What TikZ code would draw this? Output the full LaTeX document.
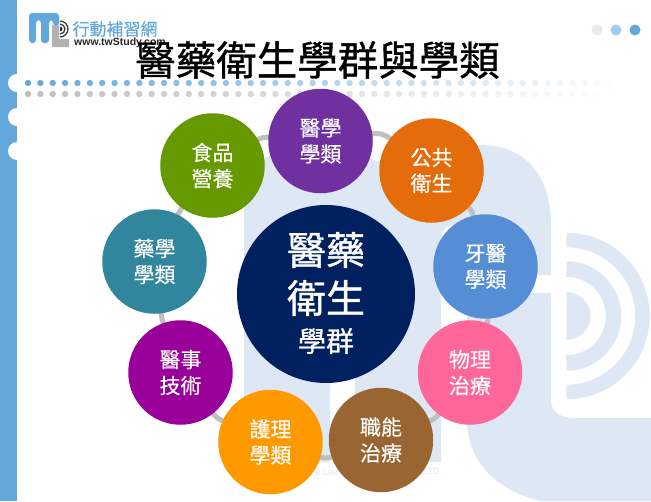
\documentclass[tikz,border=0pt]{standalone}
\usepackage{fontspec}
\setmainfont{Liberation Sans}
\newfontfamily\cjkfont[FakeBold=0.3]{Noto Sans CJK TC}
\newfontfamily\cjkheavy[FakeBold=0.9]{Noto Sans CJK TC}
\usetikzlibrary{backgrounds}
\definecolor{logoblue}{HTML}{62A8DC}
\definecolor{logopale}{HTML}{DEE8F5}
\definecolor{ringgray}{HTML}{BFBFBF}
\definecolor{topicnavy}{HTML}{002060}
\definecolor{topicpurple}{HTML}{7030A0}
\definecolor{topicorange}{HTML}{E46C0A}
\definecolor{topicblue}{HTML}{558ED5}
\definecolor{topicpink}{HTML}{FF6699}
\definecolor{topicbrown}{HTML}{996633}
\definecolor{topicamber}{HTML}{FF9900}
\definecolor{topicmagenta}{HTML}{990099}
\definecolor{topicteal}{HTML}{31859C}
\definecolor{topicgreen}{HTML}{669900}

\begin{document}
\begin{tikzpicture}[x=1pt,y=-1pt,
  topic/.style={circle,minimum size=104.5pt,inner sep=0pt,text=white,align=center,
    font=\cjkfont\fontsize{21}{26}\selectfont},
  link/.style={draw=ringgray,line width=5pt,shorten >=-3pt,shorten <=-3pt}]
\useasboundingbox (0,0) rectangle (651,501);

\begin{pgfonlayer}{background}
% Pale logo
\fill[logopale] (244,462) -- (244,205) .. controls (244,170) and (270,145) .. (305,145)
  .. controls (335,145) and (360,150) .. (376,162) .. controls (400,150) and (440,145) .. (480,145)
  .. controls (525,145) and (551,175) .. (551,225) -- (551,400) .. controls (551,412) and (560,418) .. (575,418)
  -- (651,418) -- (651,501) -- (540,501) .. controls (495,490) and (467,460) .. (467,420)
  -- (467,240) .. controls (467,230) and (462,225) .. (454,225) .. controls (446,225) and (441,230) .. (441,240)
  -- (441,462) -- (355,462) -- (355,330) -- (330,330) -- (330,462) -- cycle;
\fill[white] (530,275) rectangle (552,293);
\fill[logopale] (566.5,292) arc[start angle=-90,end angle=90,radius=24] -- cycle;
\draw[logopale,line width=15.5pt] (566.5,269) arc[start angle=-90,end angle=90,radius=47];
\draw[logopale,line width=14.5pt] (566.5,240) arc[start angle=-90,end angle=90,radius=76];
\node[font=\fontsize{9}{9}\selectfont,text=logopale,anchor=west,inner sep=0pt] (palea) at (305,472) {The Lea};
\node[font=\fontsize{9}{9}\selectfont,text=logopale,anchor=east,inner sep=0pt] (paleb) at (442,472) {.,LTD.};

% Left band
\fill[logoblue] (0,0) rectangle (17,501);
\foreach \y in {83,117,151} {
  \fill[white] (17,\y) circle (9);
}

% Dot rows
\foreach \i in {0,...,47} {
  \pgfmathsetmacro\op{1-\i/48}
  \fill[logoblue,opacity=\op] (28+\i*12.37,83) circle (3.2);
  \fill[black!25,opacity=\op] (28+\i*12.37,94) circle (3.2);
}

% Top right dots
\fill[black!8] (597,30) circle (5.5);
\fill[logoblue!60] (616,30) circle (5.5);
\fill[logoblue] (635,30) circle (5.5);

% Small logo
\fill[logoblue,rounded corners=3pt] (29,43) -- (29,13) -- (59,13) -- (59,26) -- (53,26) -- (53,20) -- (49,20) -- (49,43) -- (41,43) -- (41,20) -- (36,20) -- (36,43) -- cycle;
\fill[black!30] (52,25) -- (52,47) -- (69,47) -- (69,39) -- (59,39) -- (59,25) -- cycle;
\fill[black!80] (60,26.5) arc[start angle=-90,end angle=90,radius=2.5] -- cycle;
\draw[black!80,line width=1.2pt] (60,24) arc[start angle=-90,end angle=90,radius=5];
\draw[black!80,line width=1.2pt] (60,21) arc[start angle=-90,end angle=90,radius=8];
\end{pgfonlayer}

\node[font=\cjkfont\fontsize{17}{17}\selectfont,text=logoblue,inner sep=0pt] (brand) at (115,29) {行動補習網};
\node[font=\bfseries\fontsize{10.5}{11}\selectfont,text=black!85,anchor=west,inner sep=0pt] (site) at (74,42.5) {www.twStudy.com};

% Title
\node[font=\cjkheavy\fontsize{40.5}{41}\selectfont,inner sep=0pt] (title) at (317.5,60) {醫藥衛生學群與學類};

% Center
\node[circle,fill=topicnavy,minimum size=178pt,inner sep=0pt] (core) at (326,294) {};
\node[font=\cjkheavy\fontsize{39}{39}\selectfont,text=white,inner sep=0pt] (coreA) at (326,250) {醫藥};
\node[font=\cjkheavy\fontsize{39}{39}\selectfont,text=white,inner sep=0pt] (coreB) at (326,298) {衛生};
\node[font=\cjkheavy\fontsize{28}{28}\selectfont,text=white,inner sep=0pt] (coreC) at (326,341) {學群};

% Ring of topics
\node[topic,fill=topicpurple] (med) at (320.5,141) {醫學\\學類};
\node[topic,fill=topicorange] (pub) at (431.5,170.5) {公共\\衛生};
\node[topic,fill=topicblue] (den) at (485.5,266.5) {牙醫\\學類};
\node[topic,fill=topicpink] (phy) at (470,372.5) {物理\\治療};
\node[topic,fill=topicbrown] (occ) at (381,440) {職能\\治療};
\node[topic,fill=topicamber] (nur) at (270.5,442) {護理\\學類};
\node[topic,fill=topicmagenta] (tec) at (180.5,372.5) {醫事\\技術};
\node[topic,fill=topicteal] (pha) at (154.5,261.5) {藥學\\學類};
\node[topic,fill=topicgreen] (nut) at (212.5,165.5) {食品\\營養};

% Links between topics
\begin{pgfonlayer}{background}
\foreach \a/\b/\bnd in {med/pub/23,pub/den/16,den/phy/11,phy/occ/16,occ/nur/18,nur/tec/14,tec/pha/6,pha/nut/5,nut/med/17} {
  \draw[link] (\a) to[bend left=\bnd] (\b);
}
\end{pgfonlayer}
\end{tikzpicture}
\end{document}
